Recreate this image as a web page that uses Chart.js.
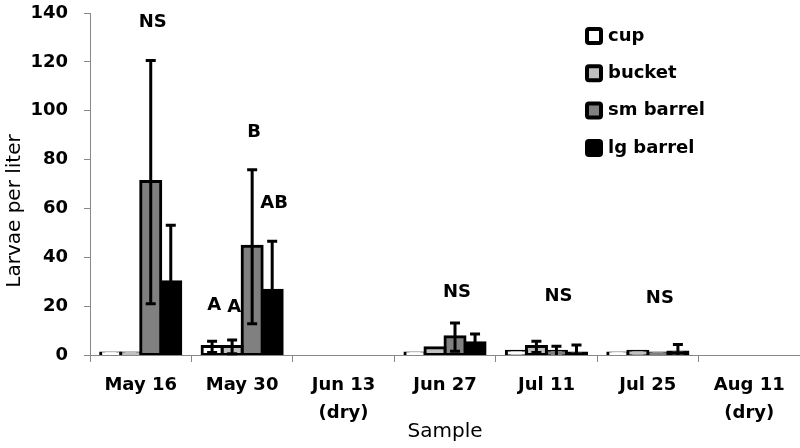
<!DOCTYPE html>
<html>
<head>
  <title>Larvae per liter by sample</title>
  <script src="https://cdn.jsdelivr.net/npm/chart.js"></script>
  <style>
    body {
      margin: 0;
      background: #fff;
    }
    #chartWrapper {
      width: 800px;
      height: 448px;
    }
  </style>
</head>
<body>
  <div id="chartWrapper">
    <canvas id="larvaeChart"></canvas>
  </div>

  <script>
    // sample dates (x categories)
    const samples = [['May 16'], ['May 30'], ['Jun 13', '(dry)'], ['Jun 27'], ['Jul 11'], ['Jul 25'], ['Aug 11', '(dry)']];

    // mean larvae per liter, one array per container type (null = dry)
    const cup       = [0, 3.5, null, 0, 1.5, 0, null];
    const bucket    = [0, 3.5, null, 3, 3.5, 1.5, null];
    const smBarrel  = [71, 44.5, null, 7.5, 1.5, 0.3, null];
    const lgBarrel  = [30, 26.5, null, 5, 0.5, 1.2, null];

    // error bar sizes (+/-)
    const cupErr      = [0, 2.5, null, 0, 0, 0, null];
    const bucketErr   = [0, 3, null, 0, 2.5, 0, null];
    const smBarrelErr = [50, 31.7, null, 6, 2.5, 0, null];
    const lgBarrelErr = [23.5, 20.5, null, 4, 4, 3.5, null];

    // y axis ticks
    const yMin = 0, yMax = 140, yStep = 20;

    // significance letters: text, sample index, series index, height in larvae per liter
    const sigText   = ['NS', 'B', 'AB', 'A', 'A', 'NS', 'NS', 'NS'];
    const sigSample = [0, 1, 1, 1, 1, 3, 4, 5];
    const sigSeries = [2, 2, 3, 0, 1, 2, 2, 2];
    const sigValue  = [136, 91, 62, 20.5, 19.5, 25.5, 24.2, 23.4];

    const FONT = 'DejaVu Sans';

    const errorBars = {
      id: 'errorBars',
      afterDatasetsDraw(chart) {
        const ctx = chart.ctx;
        const y = chart.scales.y;
        ctx.save();
        ctx.strokeStyle = '#000';
        ctx.lineWidth = 3;
        chart.data.datasets.forEach((ds, di) => {
          const meta = chart.getDatasetMeta(di);
          ds.errors.forEach((e, i) => {
            const v = ds.data[i];
            if (v == null || !e) return;
            const x = meta.data[i].x;
            const lo = Math.max(0, v - e);
            const yTop = y.getPixelForValue(v + e);
            const yBot = y.getPixelForValue(lo);
            ctx.beginPath();
            ctx.moveTo(x, yTop);
            ctx.lineTo(x, yBot);
            ctx.moveTo(x - 5, yTop + 1);
            ctx.lineTo(x + 5, yTop + 1);
            if (lo > 0) {
              ctx.moveTo(x - 5, yBot);
              ctx.lineTo(x + 5, yBot);
            }
            ctx.stroke();
          });
        });
        ctx.restore();
      }
    };

    const sigLetters = {
      id: 'sigLetters',
      afterDraw(chart) {
        const ctx = chart.ctx;
        ctx.save();
        ctx.font = 'bold 18px "' + FONT + '"';
        ctx.fillStyle = '#000';
        ctx.textAlign = 'center';
        ctx.textBaseline = 'middle';
        sigText.forEach((t, k) => {
          const bar = chart.getDatasetMeta(sigSeries[k]).data[sigSample[k]];
          ctx.fillText(t, bar.x + 2, chart.scales.y.getPixelForValue(sigValue[k]));
        });
        ctx.restore();
      }
    };

    // legend drawn as a column in the upper right of the plot
    const boxLegend = {
      id: 'boxLegend',
      afterDraw(chart) {
        const ctx = chart.ctx;
        ctx.save();
        ctx.font = 'bold 18px "' + FONT + '"';
        ctx.textBaseline = 'middle';
        chart.data.datasets.forEach((ds, i) => {
          const cy = 36 + i * 37.3;
          ctx.beginPath();
          ctx.roundRect(587, cy - 7, 14, 14, 2);
          ctx.fillStyle = ds.backgroundColor;
          ctx.fill();
          ctx.lineWidth = 4;
          ctx.strokeStyle = '#000';
          ctx.stroke();
          ctx.fillStyle = '#000';
          ctx.fillText(ds.label, 608, cy);
        });
        ctx.restore();
      }
    };

    // y axis title sits a bit below the middle of the plot
    const yTitle = {
      id: 'yTitle',
      afterDraw(chart) {
        const ctx = chart.ctx;
        const a = chart.chartArea;
        ctx.save();
        ctx.translate(15, (a.top + a.bottom) / 2 + 27);
        ctx.rotate(-Math.PI / 2);
        ctx.font = '20px "' + FONT + '"';
        ctx.fillStyle = '#000';
        ctx.textAlign = 'center';
        ctx.textBaseline = 'middle';
        ctx.fillText('Larvae per liter', 0, 0);
        ctx.restore();
      }
    };

    function series(label, data, errors, color) {
      return {
        label: label,
        data: data,
        errors: errors,
        backgroundColor: color,
        borderColor: '#000',
        borderWidth: 3,
        borderSkipped: false,
        inflateAmount: 1.5,
        minBarLength: 2,
        categoryPercentage: 0.79,
        barPercentage: 1.0
      };
    }

    const larvaeChart = new Chart(document.getElementById('larvaeChart'), {
      type: 'bar',
      data: {
        labels: samples,
        datasets: [
          series('cup', cup, cupErr, '#ffffff'),
          series('bucket', bucket, bucketErr, '#c0c0c0'),
          series('sm barrel', smBarrel, smBarrelErr, '#808080'),
          series('lg barrel', lgBarrel, lgBarrelErr, '#000000')
        ]
      },
      options: {
        responsive: true,
        maintainAspectRatio: false,
        animation: false,
        layout: { padding: { top: 13, right: 0, left: 0, bottom: 0 } },
        plugins: {
          legend: { display: false },
          tooltip: { enabled: false }
        },
        scales: {
          x: {
            grid: { drawOnChartArea: false, color: '#888', tickLength: 7, offset: true },
            border: { color: '#888' },
            ticks: {
              color: '#000',
              autoSkip: false,
              maxRotation: 0,
              padding: 9,
              font: { family: FONT, size: 18, weight: 'bold', lineHeight: 1.56 }
            },
            title: {
              display: true,
              text: 'Sample',
              color: '#000',
              font: { family: FONT, size: 20 },
              padding: { top: 0, bottom: 4 }
            },
            afterFit: s => { s.height = 93; }
          },
          y: {
            min: yMin,
            max: yMax,
            grid: { drawOnChartArea: false, color: '#888', tickLength: 6 },
            border: { color: '#888' },
            ticks: {
              stepSize: yStep,
              color: '#000',
              padding: 16,
              font: { family: FONT, size: 18, weight: 'bold' }
            },
            afterFit: s => { s.width = 90; s.paddingTop = 0; s.paddingBottom = 0; }
          }
        }
      },
      plugins: [errorBars, sigLetters, boxLegend, yTitle]
    });
  </script>
</body>
</html>
